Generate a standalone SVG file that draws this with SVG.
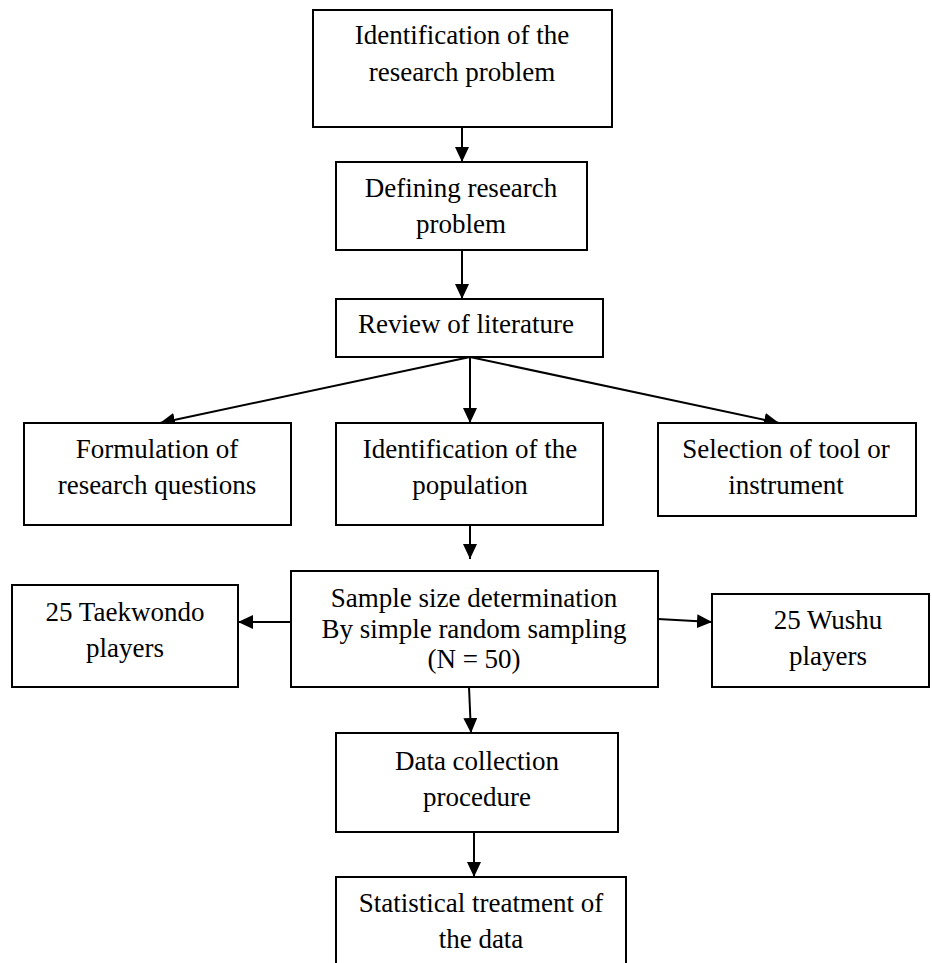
<svg xmlns="http://www.w3.org/2000/svg" width="932" height="963" viewBox="0 0 932 963">
<style>
.box{fill:#fff;stroke:#000;stroke-width:2}
.t{font-family:'Liberation Serif','Times New Roman',Times,'DejaVu Serif',serif;font-size:27px;fill:#000;text-anchor:middle}
.c{stroke:#000;stroke-width:2;fill:none;marker-end:url(#ah)}
</style>
<defs>
<marker id="ah" markerUnits="userSpaceOnUse" markerWidth="16" markerHeight="14" refX="15" refY="7" orient="auto">
<path d="M0,0 L15,7 L0,14 z" fill="#000"/>
</marker>
</defs>
<rect width="932" height="963" fill="#fff"/>
<g id="connectors">
<line class="c" x1="462" y1="127" x2="462" y2="162"/>
<line class="c" x1="462" y1="250" x2="462" y2="299"/>
<line class="c" x1="470" y1="357" x2="160" y2="423"/>
<line class="c" x1="470" y1="357" x2="470" y2="423"/>
<line class="c" x1="470" y1="357" x2="779" y2="423"/>
<line class="c" x1="470" y1="525" x2="470" y2="559"/>
<line class="c" x1="291" y1="622" x2="238" y2="622"/>
<line class="c" x1="658" y1="619" x2="712" y2="622"/>
<line class="c" x1="469" y1="687" x2="471" y2="733"/>
<line class="c" x1="474" y1="832" x2="474" y2="877"/>
</g>
<g id="n1"><rect class="box" x="313" y="10" width="299" height="117"/>
<text class="t" x="462" y="44">Identification of the</text><text class="t" x="462" y="81">research problem</text></g>
<g id="n2"><rect class="box" x="336" y="162" width="251" height="88"/>
<text class="t" x="461" y="197">Defining research</text><text class="t" x="461" y="233">problem</text></g>
<g id="n3"><rect class="box" x="336" y="299" width="267" height="58"/>
<text class="t" x="466" y="333">Review of literature</text></g>
<g id="n4"><rect class="box" x="24" y="423" width="267" height="102"/>
<text class="t" x="157" y="458">Formulation of</text><text class="t" x="157" y="494">research questions</text></g>
<g id="n5"><rect class="box" x="336" y="423" width="267" height="102"/>
<text class="t" x="470" y="458">Identification of the</text><text class="t" x="470" y="494">population</text></g>
<g id="n6"><rect class="box" x="658" y="423" width="258" height="93"/>
<text class="t" x="786" y="458">Selection of tool or</text><text class="t" x="786" y="494">instrument</text></g>
<g id="n7"><rect class="box" x="291" y="571" width="367" height="116"/>
<text class="t" x="474" y="607">Sample size determination</text><text class="t" x="474" y="638">By simple random sampling</text><text class="t" x="474" y="668">(N = 50)</text></g>
<g id="n8"><rect class="box" x="12" y="585" width="226" height="102"/>
<text class="t" x="125" y="621">25 Taekwondo</text><text class="t" x="125" y="657">players</text></g>
<g id="n9"><rect class="box" x="712" y="594" width="217" height="93"/>
<text class="t" x="828" y="629">25 Wushu</text><text class="t" x="828" y="665">players</text></g>
<g id="n10"><rect class="box" x="336" y="733" width="282" height="99"/>
<text class="t" x="477" y="770">Data collection</text><text class="t" x="477" y="806">procedure</text></g>
<g id="n11"><rect class="box" x="336" y="877" width="290" height="100"/>
<text class="t" x="481" y="912">Statistical treatment of</text><text class="t" x="481" y="948">the data</text></g>
</svg>
